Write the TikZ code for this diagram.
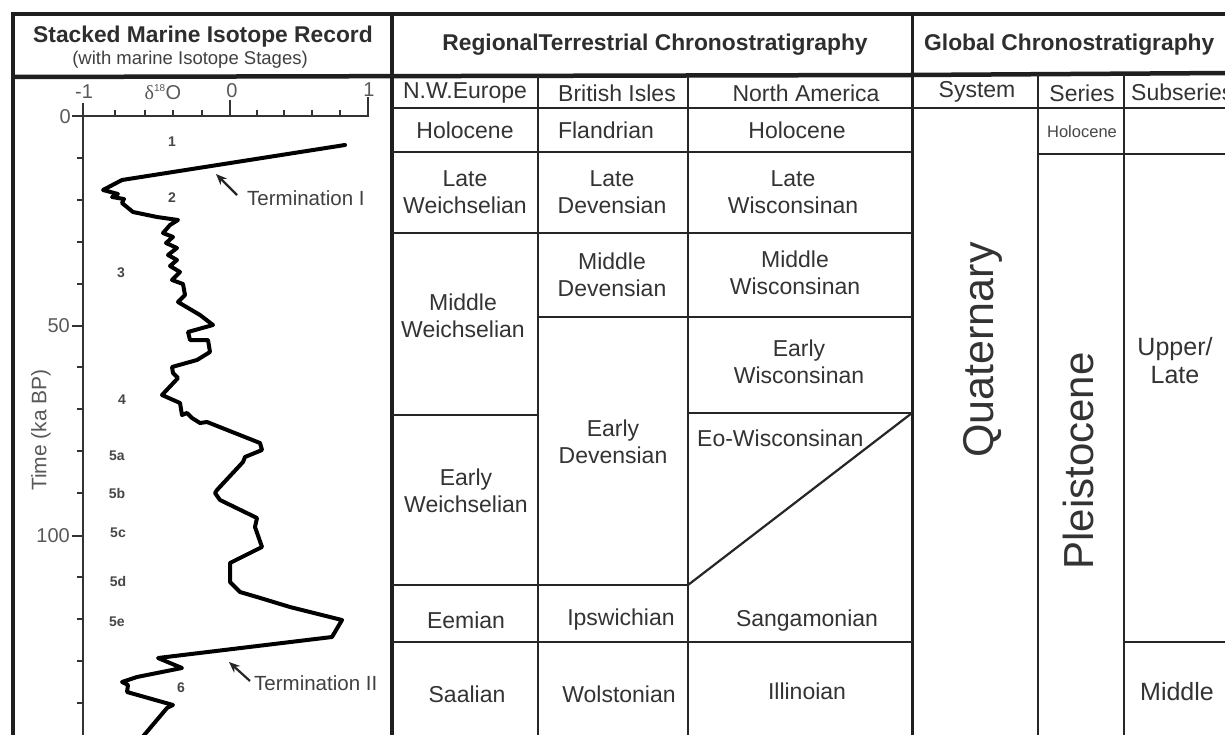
\documentclass[tikz,border=0pt]{standalone}
\usepackage{fontspec}
\setmainfont{Liberation Sans}
\newfontfamily\seriffont{Liberation Serif}
\usetikzlibrary{arrows.meta}
\tikzset{
  frame/.style={line width=4.5pt, draw=black!88},
  panel/.style={line width=3pt, draw=black!88},
  grid/.style={line width=2.2pt, draw=black!85},
  axis/.style={line width=2pt, draw=black!80},
  curve/.style={line width=4pt, draw=black, line join=round, line cap=round},
  pointer/.style={line width=2.2pt, draw=black!85, -{Stealth[length=11pt,width=9pt]}},
  hdr/.style={font=\bfseries\fontsize{22.8}{26}\selectfont, text=black!82, inner sep=0pt},
  subhdr/.style={font=\fontsize{18.5}{21}\selectfont, text=black!75, inner sep=0pt},
  cell/.style={font=\fontsize{23}{27}\selectfont, text=black!80, align=center, inner sep=0pt},
  bigcell/.style={font=\fontsize{25}{28}\selectfont, text=black!80, align=center, inner sep=0pt},
  ticklab/.style={font=\fontsize{20}{22}\selectfont, text=black!65, inner sep=0pt},
  stage/.style={font=\bfseries\fontsize{14}{16}\selectfont, text=black!72, inner sep=0pt},
  termlab/.style={font=\fontsize{20.5}{23}\selectfont, text=black!75, inner sep=0pt, anchor=west},
}
\begin{document}
\begin{tikzpicture}[x=1pt,y=-1pt]
\useasboundingbox (0,0) rectangle (1225,735);
\fill[white] (0,0) rectangle (1225,735);

% ---------- frame ----------
\draw[frame] (13,740) -- (13,14) -- (1230,14);
\draw[frame] (13,77) -- (912,75) -- (1230,73);
\draw[frame] (392,14) -- (392,740);
\draw[panel] (912,14) -- (912,740);

% ---------- regional table grid ----------
\draw[grid] (392,108) -- (1230,108);
\draw[grid] (538,76) -- (538,740);
\draw[grid] (688,76) -- (688,740);
\draw[grid] (392,152) -- (912,152);
\draw[grid] (392,233) -- (912,233);
\draw[grid] (538,317) -- (912,317);
\draw[grid] (392,415) -- (538,415);
\draw[grid] (688,413) -- (912,413);
\draw[grid] (912,413) -- (688,585);
\draw[grid] (392,585) -- (688,585);
\draw[grid] (392,642) -- (912,642);

% ---------- global table grid ----------
\draw[grid] (1038,74) -- (1038,740);
\draw[grid] (1124,74) -- (1124,740);
\draw[grid] (1038,154) -- (1230,154);
\draw[grid] (1124,642) -- (1230,642);

% ---------- headers ----------
\node[hdr] (hstack) at (203,37) {Stacked Marine Isotope Record};
\node[subhdr] (hstacksub) at (190,60) {(with marine Isotope Stages)};
\node[hdr] (hreg) at (655,45) {RegionalTerrestrial Chronostratigraphy};
\node[hdr, anchor=west] (hglob) at (924,45) {Global Chronostratigraphy};

\node[cell] (cnw) at (465,93) {N.W.Europe};
\node[cell] (cbi) at (617,93) {British Isles};
\node[cell] (cna) at (806,93) {North America};
\node[cell] (csys) at (977,92) {System};
\node[cell] (cser) at (1082,93) {Series};
\node[cell, anchor=west] (csub) at (1131,92) {Subseries};

% ---------- regional cells ----------
\node[cell] (nw1) at (465,130) {Holocene};
\node[cell] (bi1) at (606,130) {Flandrian};
\node[cell] (na1) at (797,130) {Holocene};

\node[cell] (nw2) at (465,192) {Late\\Weichselian};
\node[cell] (bi2) at (612,192) {Late\\Devensian};
\node[cell] (na2) at (793,192) {Late\\Wisconsinan};

\node[cell] (bi3) at (612,275) {Middle\\Devensian};
\node[cell] (na3) at (795,273) {Middle\\Wisconsinan};
\node[cell] (nw3) at (463,316) {Middle\\Weichselian};

\node[cell] (na4) at (799,362) {Early\\Wisconsinan};
\node[cell] (bi4) at (613,442) {Early\\Devensian};
\node[cell, anchor=west] (na5) at (697,438) {Eo-Wisconsinan};
\node[cell] (nw4) at (466,491) {Early\\Weichselian};

\node[cell] (nw5) at (466,620) {Eemian};
\node[cell] (bi5) at (621,620) {Ipswichian};
\node[cell] (na6) at (807,621) {Sangamonian};

\node[cell] (nw6) at (467,694) {Saalian};
\node[cell] (bi6) at (619,694) {Wolstonian};
\node[cell] (na7) at (807,691) {Illinoian};

% ---------- global cells ----------
\node[font=\fontsize{43}{43}\selectfont, text=black!80, rotate=90, inner sep=0pt] (quat) at (983,350) {Quaternary};
\node[font=\fontsize{42}{42}\selectfont, text=black!80, rotate=90, inner sep=0pt] (pleist) at (1078,461) {Pleistocene};
\node[font=\fontsize{16.5}{18}\selectfont, text=black!72, inner sep=0pt] (holser) at (1082,132) {Holocene};
\node[bigcell] (upper) at (1175,361) {Upper/\\Late};
\node[bigcell] (middle) at (1177,692) {Middle};

% ---------- isotope axes ----------
\draw[axis] (72,116) -- (368,116) -- (368,97);
\draw[axis] (83,103) -- (83,740);
\draw[axis] (230,100) -- (230,116);
\foreach \x in {115,145,173,202,257,284,312,340} \draw[axis] (\x,110) -- (\x,116);
\foreach \y in {326,536} \draw[axis] (72,\y) -- (83,\y);
\foreach \k in {1,2,3,4,6,7,8,9,11,12,13,14} \draw[axis] (77,{116+41.9*\k}) -- (83,{116+41.9*\k});

\node[ticklab, anchor=east] (y0) at (71,117) {0};
\node[ticklab, anchor=east] (y50) at (70,326) {50};
\node[ticklab, anchor=east] (y100) at (70,536) {100};
\node[ticklab, anchor=east] (y150) at (70,745) {150};
\node[ticklab] (xm1) at (84,92) {-1};
\node[ticklab] (xd) at (163,92) {{\seriffont δ}\textsuperscript{\fontsize{10}{10}\selectfont 18}O};
\node[ticklab] (x0) at (232,91) {0};
\node[ticklab] (x1) at (369,90) {1};
\node[ticklab, rotate=90, font=\fontsize{21}{23}\selectfont] (tlab) at (41,430) {Time (ka BP)};

% ---------- isotope curve ----------
\draw[curve] (345,145) -- (122,180) -- (103,190) -- (118,194) -- (112,197) -- (124,199)
  -- (122,203) -- (133,212) -- (157,217) -- (178,220) -- (170,225) -- (163,233)
  -- (173,237) -- (166,243) -- (177,248) -- (168,255) -- (177,260) -- (170,266)
  -- (180,272) -- (172,280) -- (183,284) -- (185,295) -- (178,302) -- (200,315)
  -- (213,325) -- (188,332) -- (190,340) -- (208,340) -- (210,352) -- (197,360)
  -- (172,367) -- (173,373) -- (178,378) -- (162,395) -- (180,403) -- (182,415)
  -- (187,413) -- (192,418) -- (200,423) -- (207,422) -- (260,443) -- (262,450)
  -- (245,457) -- (243,462) -- (217,490) -- (215,493) -- (220,500) -- (257,518)
  -- (255,527) -- (262,547) -- (230,563) -- (230,582) -- (240,592) -- (257,597)
  -- (290,607) -- (342,620) -- (332,637) -- (158,658) -- (182,668) -- (137,677)
  -- (122,682) -- (128,685) -- (127,692) -- (173,705) -- (167,708) -- (140,740);

% ---------- stage labels ----------
\node[stage] (s1) at (172,142) {1};
\node[stage] (s2) at (172,198) {2};
\node[stage] (s3) at (121,273) {3};
\node[stage] (s4) at (122,400) {4};
\node[stage] (s5a) at (117,456) {5a};
\node[stage] (s5b) at (117,493) {5b};
\node[stage] (s5c) at (118,533) {5c};
\node[stage] (s5d) at (118,581) {5d};
\node[stage] (s5e) at (117,622) {5e};
\node[stage] (s6) at (181,688) {6};

% ---------- terminations ----------
\node[termlab] (term1) at (247,198) {Termination I};
\node[termlab] (term2) at (254,683) {Termination II};
\coordinate (tip1) at (216,174);
\coordinate (tip2) at (229,662);
\draw[pointer] ([xshift=-10pt,yshift=3pt]term1.west) -- (tip1);
\draw[pointer] ([xshift=-4pt,yshift=2pt]term2.west) -- (tip2);
\end{tikzpicture}
\end{document}
